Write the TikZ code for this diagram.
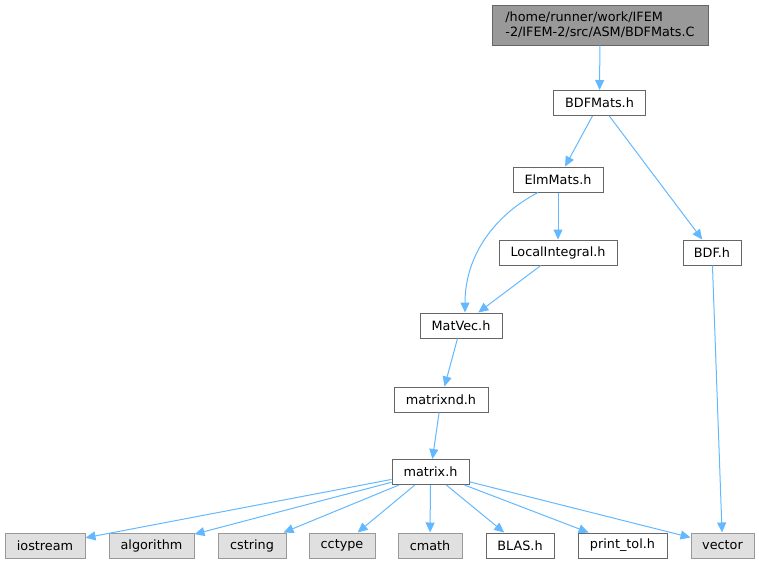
\documentclass[tikz,border=0pt]{standalone}
\usepackage{fontspec}
\setmainfont{DejaVu Sans}
\usetikzlibrary{arrows.meta}
\definecolor{edgeblue}{HTML}{63B8FF}
\definecolor{bordergray}{HTML}{666666}
\definecolor{extborder}{HTML}{999999}
\definecolor{extfill}{HTML}{E0E0E0}
\definecolor{rootfill}{HTML}{999999}
\begin{document}
\begin{tikzpicture}[x=0.75pt,y=-0.75pt,
  base/.style={draw, line width=0.75pt, inner sep=0pt, minimum height=18.75pt, font=\fontsize{9.6pt}{11.5pt}\selectfont},
  filebox/.style={base, draw=bordergray, fill=white},
  extbox/.style={base, draw=extborder, fill=extfill},
  rootbox/.style={base, draw=bordergray, fill=rootfill, align=left},
  edge/.style={draw=edgeblue, line width=0.75pt, -{Triangle[length=7.5pt,width=6.75pt]}}]
\useasboundingbox (0,0) rectangle (759,564);
\node[rootbox, minimum width=162pt, minimum height=30pt] (root) at (600,25) {/home/runner/work/IFEM\\-2/IFEM-2/src/ASM/BDFMats.C};
\node[filebox, minimum width=69pt] (bdfmats) at (599.5,103) {BDFMats.h};
\node[filebox, minimum width=67.5pt] (elm) at (558,179.5) {ElmMats.h};
\node[filebox, minimum width=88.5pt] (local) at (558,252.5) {LocalIntegral.h};
\node[filebox, minimum width=43.5pt] (bdf) at (712,252.5) {BDF.h};
\node[filebox, minimum width=61.5pt] (matvec) at (461,325.5) {MatVec.h};
\node[filebox, minimum width=70.5pt] (matrixnd) at (441,399.5) {matrixnd.h};
\node[filebox, minimum width=57.75pt] (matrix) at (430.5,472) {matrix.h};
\node[extbox, minimum width=60pt] (iostream) at (45,545.5) {iostream};
\node[extbox, minimum width=63.75pt] (algorithm) at (151.5,545.5) {algorithm};
\node[extbox, minimum width=51pt] (cstring) at (252,545.5) {cstring};
\node[extbox, minimum width=49.5pt] (cctype) at (342,545.5) {cctype};
\node[extbox, minimum width=48pt] (cmath) at (430,545.5) {cmath};
\node[filebox, minimum width=51pt] (blas) at (520,545.5) {BLAS.h};
\node[filebox, minimum width=66.75pt] (printtol) at (622.5,545.5) {print\_tol.h};
\node[extbox, minimum width=47.25pt] (vector) at (722.5,545.5) {vector};
\draw[edge] (root) -- (bdfmats);
\draw[edge] (bdfmats) -- (elm);
\draw[edge] (bdfmats) -- (bdf);
\draw[edge] ([xshift=-15pt]elm.south) .. controls (495,215) and (465,255) .. ([xshift=3pt]matvec.north);
\draw[edge] (elm) -- (local);
\draw[edge] (local) -- (matvec);
\draw[edge] (bdf) -- (vector);
\draw[edge] (matvec) -- (matrixnd);
\draw[edge] (matrixnd) -- (matrix);
\draw[edge] (matrix) -- (iostream);
\draw[edge] (matrix) -- (algorithm);
\draw[edge] (matrix) -- (cstring);
\draw[edge] (matrix) -- (cctype);
\draw[edge] (matrix) -- (cmath);
\draw[edge] (matrix) -- (blas);
\draw[edge] (matrix) -- (printtol);
\draw[edge] (matrix) -- (vector);
\end{tikzpicture}
\end{document}
